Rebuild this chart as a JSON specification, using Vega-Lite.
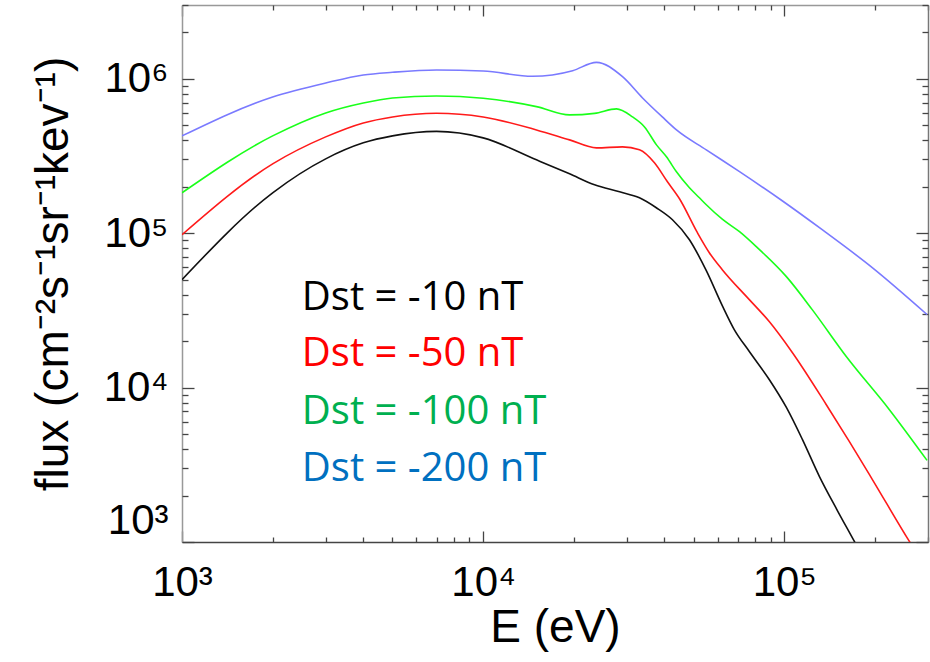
{
  "$schema": "https://vega.github.io/schema/vega-lite/v6.json",
  "autosize": "none",
  "width": 746,
  "height": 537,
  "padding": {"left": 182, "top": 5, "right": 2, "bottom": 120},
  "background": "white",
  "config": {"view": {"stroke": null}, "font": "Liberation Sans"},
  "datasets": {
    "curves": [
      {"series": "-10", "E": 1000, "flux": 50000},
      {"series": "-10", "E": 2000, "flux": 182400},
      {"series": "-10", "E": 3000, "flux": 302600},
      {"series": "-10", "E": 4000, "flux": 384100},
      {"series": "-10", "E": 5000, "flux": 426200},
      {"series": "-10", "E": 7000, "flux": 455700},
      {"series": "-10", "E": 10000, "flux": 413700},
      {"series": "-10", "E": 15030, "flux": 298200},
      {"series": "-10", "E": 19360, "flux": 242100},
      {"series": "-10", "E": 23440, "flux": 205500},
      {"series": "-10", "E": 28380, "flux": 185200},
      {"series": "-10", "E": 33040, "flux": 169300},
      {"series": "-10", "E": 37580, "flux": 146000},
      {"series": "-10", "E": 42520, "flux": 122100},
      {"series": "-10", "E": 48420, "flux": 90650},
      {"series": "-10", "E": 55080, "flux": 57130},
      {"series": "-10", "E": 62230, "flux": 33940},
      {"series": "-10", "E": 68200, "flux": 23740},
      {"series": "-10", "E": 76530, "flux": 17120},
      {"series": "-10", "E": 89110, "flux": 11280},
      {"series": "-10", "E": 101600, "flux": 7434},
      {"series": "-10", "E": 114800, "flux": 4618},
      {"series": "-10", "E": 130700, "flux": 2663},
      {"series": "-10", "E": 149900, "flux": 1605},
      {"series": "-10", "E": 170700, "flux": 1012},
      {"series": "-10", "E": 195900, "flux": 610},
      {"series": "-10", "E": 297800, "flux": 130},
      {"series": "-50", "E": 1000, "flux": 97660},
      {"series": "-50", "E": 2000, "flux": 280900},
      {"series": "-50", "E": 3000, "flux": 420000},
      {"series": "-50", "E": 4000, "flux": 517200},
      {"series": "-50", "E": 5000, "flux": 565500},
      {"series": "-50", "E": 7000, "flux": 597500},
      {"series": "-50", "E": 10000, "flux": 565500},
      {"series": "-50", "E": 15030, "flux": 466000},
      {"series": "-50", "E": 19360, "flux": 401600},
      {"series": "-50", "E": 23770, "flux": 356500},
      {"series": "-50", "E": 29020, "flux": 361900},
      {"series": "-50", "E": 33040, "flux": 346100},
      {"series": "-50", "E": 37050, "flux": 285200},
      {"series": "-50", "E": 40920, "flux": 214900},
      {"series": "-50", "E": 44870, "flux": 166900},
      {"series": "-50", "E": 51460, "flux": 100600},
      {"series": "-50", "E": 56360, "flux": 74700},
      {"series": "-50", "E": 62230, "flux": 58000},
      {"series": "-50", "E": 76530, "flux": 37110},
      {"series": "-50", "E": 89110, "flux": 26750},
      {"series": "-50", "E": 106300, "flux": 16870},
      {"series": "-50", "E": 137700, "flux": 7774},
      {"series": "-50", "E": 164300, "flux": 4483},
      {"series": "-50", "E": 195900, "flux": 2547},
      {"series": "-50", "E": 259900, "flux": 1012},
      {"series": "-50", "E": 297800, "flux": 667},
      {"series": "-100", "E": 1000, "flux": 182400},
      {"series": "-100", "E": 2000, "flux": 426200},
      {"series": "-100", "E": 3000, "flux": 600200},
      {"series": "-100", "E": 4000, "flux": 696500},
      {"series": "-100", "E": 5000, "flux": 750400},
      {"series": "-100", "E": 7000, "flux": 773200},
      {"series": "-100", "E": 10000, "flux": 747100},
      {"series": "-100", "E": 15030, "flux": 659200},
      {"series": "-100", "E": 19360, "flux": 582600},
      {"series": "-100", "E": 23440, "flux": 596000},
      {"series": "-100", "E": 27720, "flux": 637100},
      {"series": "-100", "E": 31320, "flux": 565500},
      {"series": "-100", "E": 34340, "flux": 487300},
      {"series": "-100", "E": 37630, "flux": 372800},
      {"series": "-100", "E": 40610, "flux": 311900},
      {"series": "-100", "E": 43840, "flux": 249400},
      {"series": "-100", "E": 48420, "flux": 196600},
      {"series": "-100", "E": 52250, "flux": 169300},
      {"series": "-100", "E": 55080, "flux": 152600},
      {"series": "-100", "E": 62230, "flux": 123000},
      {"series": "-100", "E": 71000, "flux": 102100},
      {"series": "-100", "E": 80720, "flux": 81700},
      {"series": "-100", "E": 101600, "flux": 52260},
      {"series": "-100", "E": 123800, "flux": 31970},
      {"series": "-100", "E": 160600, "flux": 15890},
      {"series": "-100", "E": 223000, "flux": 7218},
      {"series": "-100", "E": 297800, "flux": 3377},
      {"series": "-200", "E": 1000, "flux": 426200},
      {"series": "-200", "E": 2000, "flux": 761400},
      {"series": "-200", "E": 3000, "flux": 938000},
      {"series": "-200", "E": 4000, "flux": 1057000},
      {"series": "-200", "E": 5000, "flux": 1100000},
      {"series": "-200", "E": 7000, "flux": 1138000},
      {"series": "-200", "E": 10000, "flux": 1121000},
      {"series": "-200", "E": 14590, "flux": 1036000},
      {"series": "-200", "E": 19820, "flux": 1126000},
      {"series": "-200", "E": 23770, "flux": 1276000},
      {"series": "-200", "E": 29020, "flux": 1030000},
      {"series": "-200", "E": 33830, "flux": 750400},
      {"series": "-200", "E": 39350, "flux": 565500},
      {"series": "-200", "E": 43850, "flux": 466000},
      {"series": "-200", "E": 55080, "flux": 346100},
      {"series": "-200", "E": 71000, "flux": 250000},
      {"series": "-200", "E": 98400, "flux": 162000},
      {"series": "-200", "E": 133600, "flux": 105200},
      {"series": "-200", "E": 195900, "flux": 59800},
      {"series": "-200", "E": 297800, "flux": 29700}
    ],
    "labels": [
      {"label": "Dst = -10 nT", "E": 2500, "flux": 32000},
      {"label": "Dst = -50 nT", "E": 2500, "flux": 13700},
      {"label": "Dst = -100 nT", "E": 2500, "flux": 5780},
      {"label": "Dst = -200 nT", "E": 2500, "flux": 2470}
    ]
  },
  "resolve": {"scale": {"color": "independent"}, "axis": {"x": "independent", "y": "independent"}},
  "layer": [
    {
      "data": {"name": "curves"},
      "mark": {"type": "line", "interpolate": "monotone", "strokeWidth": 1.6, "clip": true},
      "encoding": {
        "x": {
          "field": "E", "type": "quantitative",
          "scale": {"type": "log", "domain": [1000, 300000], "nice": false},
          "axis": {
            "orient": "bottom",
            "values": [1000, 10000, 100000],
            "labelExpr": "datum.value == 1000 ? '10³' : datum.value == 10000 ? '10⁴' : '10⁵'",
            "ticks": false,
            "domainColor": "#444", "domainWidth": 1.5,
            "grid": false, "labelFlush": false,
            "labelFontSize": 42, "labelColor": "black", "labelPadding": 20,
            "labelFont": "Liberation Sans",
            "title": "E (eV)", "titleFontSize": 46, "titleFontWeight": "normal", "titleFont": "Liberation Sans",
            "titlePadding": 2, "titleColor": "black"
          }
        },
        "y": {
          "field": "flux", "type": "quantitative",
          "scale": {"type": "log", "domain": [1000, 3000000], "nice": false},
          "axis": {
            "orient": "left",
            "values": [1000, 10000, 100000, 1000000],
            "labelExpr": "datum.value == 1000 ? '10³' : datum.value == 10000 ? '10⁴' : datum.value == 100000 ? '10⁵' : '10⁶'",
            "ticks": false,
            "domainColor": "#999", "domainWidth": 1.5,
            "grid": false,
            "labelFontSize": 42, "labelColor": "black", "labelPadding": 14,
            "labelFont": "Liberation Sans", "labelFlush": true,
            "title": "flux (cm⁻²s⁻¹sr⁻¹kev⁻¹)", "titleFontSize": 46, "titleFontWeight": "normal", "titleFont": "Liberation Sans",
            "titlePadding": 26, "titleColor": "black"
          }
        },
        "color": {
          "field": "series", "type": "nominal",
          "scale": {"domain": ["-10", "-50", "-100", "-200"], "range": ["#111111", "#ff1a1a", "#1aff1a", "#7a7aff"]},
          "legend": null
        },
        "detail": {"field": "series"}
      }
    },
    {
      "data": {"name": "labels"},
      "mark": {"type": "text", "align": "left", "baseline": "alphabetic", "font": "Open Sans", "fontSize": 40},
      "encoding": {
        "x": {
          "field": "E", "type": "quantitative",
          "scale": {"type": "log", "domain": [1000, 300000], "nice": false},
          "axis": {
            "orient": "top", "values": [1000, 10000, 100000],
            "labels": false, "title": null, "grid": false, "ticks": false,
            "domainColor": "#999", "domainWidth": 1.5
          }
        },
        "y": {
          "field": "flux", "type": "quantitative",
          "scale": {"type": "log", "domain": [1000, 3000000], "nice": false},
          "axis": {
            "orient": "right", "values": [1000, 10000, 100000, 1000000],
            "labels": false, "title": null, "grid": false, "ticks": false,
            "domainColor": "#777", "domainWidth": 1.5
          }
        },
        "text": {"field": "label"},
        "color": {
          "field": "label", "type": "nominal",
          "scale": {"domain": ["Dst = -10 nT", "Dst = -50 nT", "Dst = -100 nT", "Dst = -200 nT"], "range": ["#000000", "#ff0000", "#00b050", "#0070c0"]},
          "legend": null
        }
      }
    },
    {
      "data": {"name": "labels"},
      "mark": {"type": "point", "opacity": 0},
      "encoding": {
        "x": {
          "field": "E", "type": "quantitative",
          "scale": {"type": "log", "domain": [1000, 300000], "nice": false},
          "axis": {
            "orient": "bottom", "offset": -11, "values": [1000, 10000, 100000],
            "labels": false, "title": null, "grid": false, "domain": false,
            "tickSize": 11, "tickColor": "#444", "tickWidth": 1.3
          }
        },
        "y": {
          "field": "flux", "type": "quantitative",
          "scale": {"type": "log", "domain": [1000, 3000000], "nice": false},
          "axis": {
            "orient": "left", "offset": -12, "values": [1000, 10000, 100000, 1000000],
            "labels": false, "title": null, "grid": false, "domain": false,
            "tickSize": 12, "tickColor": "#444", "tickWidth": 1.3
          }
        }
      }
    },
    {
      "data": {"name": "labels"},
      "mark": {"type": "point", "opacity": 0},
      "encoding": {
        "x": {
          "field": "E", "type": "quantitative",
          "scale": {"type": "log", "domain": [1000, 300000], "nice": false},
          "axis": {
            "orient": "bottom", "offset": -5,
            "values": [2000,3000,4000,5000,6000,7000,8000,9000,20000,30000,40000,50000,60000,70000,80000,90000,200000,300000],
            "labels": false, "title": null, "grid": false, "domain": false,
            "tickSize": 5, "tickColor": "#444", "tickWidth": 1.3
          }
        },
        "y": {
          "field": "flux", "type": "quantitative",
          "scale": {"type": "log", "domain": [1000, 3000000], "nice": false},
          "axis": {
            "orient": "left", "offset": -6,
            "values": [2000,3000,4000,5000,6000,7000,8000,9000,20000,30000,40000,50000,60000,70000,80000,90000,200000,300000,400000,500000,600000,700000,800000,900000,2000000,3000000],
            "labels": false, "title": null, "grid": false, "domain": false,
            "tickSize": 6, "tickColor": "#444", "tickWidth": 1.3
          }
        }
      }
    },
    {
      "data": {"name": "labels"},
      "mark": {"type": "point", "opacity": 0},
      "encoding": {
        "x": {
          "field": "E", "type": "quantitative",
          "scale": {"type": "log", "domain": [1000, 300000], "nice": false},
          "axis": {
            "orient": "top", "offset": -11, "values": [1000, 10000, 100000],
            "labels": false, "title": null, "grid": false, "domain": false,
            "tickSize": 11, "tickColor": "#444", "tickWidth": 1.3
          }
        },
        "y": {
          "field": "flux", "type": "quantitative",
          "scale": {"type": "log", "domain": [1000, 3000000], "nice": false},
          "axis": {
            "orient": "right", "offset": -12, "values": [1000, 10000, 100000, 1000000],
            "labels": false, "title": null, "grid": false, "domain": false,
            "tickSize": 12, "tickColor": "#444", "tickWidth": 1.3
          }
        }
      }
    },
    {
      "data": {"name": "labels"},
      "mark": {"type": "point", "opacity": 0},
      "encoding": {
        "x": {
          "field": "E", "type": "quantitative",
          "scale": {"type": "log", "domain": [1000, 300000], "nice": false},
          "axis": {
            "orient": "top", "offset": -5,
            "values": [2000,3000,4000,5000,6000,7000,8000,9000,20000,30000,40000,50000,60000,70000,80000,90000,200000,300000],
            "labels": false, "title": null, "grid": false, "domain": false,
            "tickSize": 5, "tickColor": "#444", "tickWidth": 1.3
          }
        },
        "y": {
          "field": "flux", "type": "quantitative",
          "scale": {"type": "log", "domain": [1000, 3000000], "nice": false},
          "axis": {
            "orient": "right", "offset": -6,
            "values": [2000,3000,4000,5000,6000,7000,8000,9000,20000,30000,40000,50000,60000,70000,80000,90000,200000,300000,400000,500000,600000,700000,800000,900000,2000000,3000000],
            "labels": false, "title": null, "grid": false, "domain": false,
            "tickSize": 6, "tickColor": "#444", "tickWidth": 1.3
          }
        }
      }
    }
  ]
}
